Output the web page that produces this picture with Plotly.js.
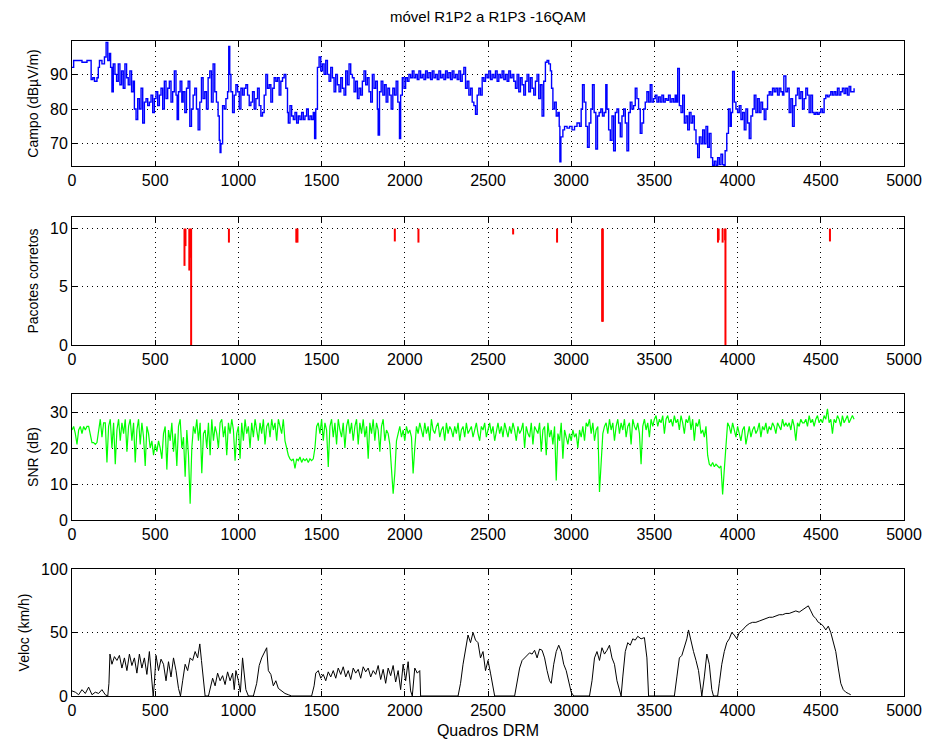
<!DOCTYPE html>
<html>
<head>
<meta charset="utf-8">
<script src="https://cdn.plot.ly/plotly-3.0.1.min.js"></script>
<style>html,body{margin:0;padding:0;background:#fff;}#chart{width:930px;height:749px;}</style>
</head>
<body>
<div id="chart"></div>
<script>
// ---------- DATA ----------
const chartTitle = "móvel R1P2 a R1P3 -16QAM";
const xTitle = "Quadros DRM";
const yTitles = ["Campo (dBµV/m)", "Pacotes corretos", "SNR (dB)", "Veloc (km/h)"];
const xTicks = [0, 500, 1000, 1500, 2000, 2500, 3000, 3500, 4000, 4500, 5000];

// Campo (field strength) – frame / value pairs
const campoFrames = [0,10,30,60,90,110,115,125,135,150,158,165,180,195,205,215,225,232,240,248,258,268,278,288,298,308,318,328,338,348,358,368,375,385,395,405,415,425,435,445,455,465,475,485,495,505,515,525,535,545,555,565,575,585,595,605,615,625,632,640,650,660,668,678,688,698,708,718,728,738,748,758,768,778,788,798,808,818,828,838,848,858,868,878,885,890,895,905,915,925,935,942,948,955,965,975,985,995,1005,1015,1025,1035,1045,1055,1065,1075,1085,1095,1105,1115,1125,1135,1145,1155,1165,1175,1185,1195,1205,1215,1225,1235,1245,1255,1265,1275,1285,1295,1300,1310,1320,1330,1340,1350,1360,1370,1380,1390,1400,1410,1420,1430,1440,1450,1458,1465,1475,1485,1495,1505,1515,1525,1535,1545,1555,1565,1575,1585,1595,1605,1615,1625,1635,1645,1655,1665,1675,1685,1695,1705,1715,1725,1735,1745,1755,1765,1775,1785,1795,1805,1815,1825,1835,1840,1848,1858,1868,1878,1888,1898,1908,1918,1928,1938,1948,1958,1968,1975,1985,1995,2005,2015,2025,2035,2045,2055,2065,2075,2085,2095,2105,2115,2125,2135,2145,2155,2165,2175,2185,2195,2205,2215,2225,2235,2245,2255,2265,2275,2285,2295,2305,2315,2325,2335,2345,2355,2365,2375,2385,2395,2405,2415,2425,2435,2445,2455,2465,2475,2485,2495,2505,2515,2525,2535,2545,2555,2565,2575,2585,2595,2605,2615,2625,2635,2645,2655,2665,2675,2685,2695,2705,2715,2725,2735,2745,2755,2765,2775,2785,2795,2805,2815,2825,2835,2845,2855,2865,2875,2882,2890,2900,2910,2920,2928,2932,2938,2950,2960,2975,2990,3005,3020,3035,3050,3060,3068,3078,3088,3098,3108,3118,3128,3138,3148,3158,3168,3178,3188,3198,3208,3215,3225,3235,3245,3255,3265,3275,3285,3295,3305,3315,3325,3335,3345,3355,3365,3375,3385,3395,3405,3415,3425,3435,3445,3455,3465,3475,3485,3495,3505,3515,3525,3535,3545,3555,3565,3575,3585,3595,3605,3615,3625,3633,3640,3650,3660,3670,3680,3690,3700,3710,3720,3730,3740,3750,3760,3770,3780,3790,3800,3810,3820,3830,3840,3850,3860,3870,3880,3890,3900,3910,3918,3925,3935,3945,3955,3962,3970,3980,3990,4000,4010,4020,4030,4040,4050,4060,4070,4080,4090,4100,4110,4120,4130,4140,4150,4160,4170,4180,4190,4200,4210,4220,4230,4240,4250,4260,4270,4278,4290,4300,4310,4320,4330,4340,4350,4360,4370,4380,4390,4400,4410,4420,4430,4440,4450,4460,4470,4480,4490,4500,4510,4520,4530,4540,4550,4560,4570,4580,4590,4600,4610,4620,4630,4640,4650,4660,4670,4680,4700];
const campoValues = [92,94,94,93.5,94,94,88.5,89,88,89,92,94,93,95,99.2,94,96,92,85,93,90,88,93,87,91,86,93,89,87,91,85,88,80,77,83,80,86,76,82,83,81,82,84,79,83,85,81,84,86,80,88,83,86,88,82,85,91,84,77,85,88,82,85,79,86,88,75,80,84,86,80,74,82,89,83,85,80,89,91,82,93,85,82,78,71,67.5,70,81,80,83,85,98,90,85,79,84,87,85,80,86,84,86,87,84,81,82,85,80,83,86,81,78,79,84,90,86,87,82,86,89,88,89,84,88,89,90,86,79,76,81,78,77,79,76,78,77,79,77,78,80,77,78,77,79,71.5,80,92,95,91,93,90,94,90,88,92,89,85,90,87,85,89,86,84,91,87,93,90,89,85,88,83,86,84,88,91,87,89,85,82,90,86,88,80,72.5,85,88,84,87,82,86,84,80,86,84,88,82,71.5,84,89,86,89,88,90,89,91,89,90,88.5,91,89,90,88.5,91,89,90.5,88.5,91,89,90,88.5,91,89,90,88.5,91,89,90.5,88.5,91,89,90,88.5,91,88,90,92,86,88,84,86,82,81,78.5,84,86,84,89,88,90,89,91,88.5,90,89,91,88,90,89,91,88.5,90,88,91,89,90,88,86,90,85,89,87,84,88,90,85,89,86,84,88,90,83,87,78,88,93.5,94,93,91,86,80,82,78,79,75,64.8,72,74,75,74.5,75,74,75,76,75,80,87,82,75,69,76,80,87,79,68.5,78,79,80,78,79,87,80,74,71,78,68,79,80,76,72,78,80,76,68,79,82,80,81,86,83,80,73,76,80,82,85,82,87,82,83,84,82,83.5,82,84,82,83,82.5,84,82,83,82,84,82,91.7,81,79,84,76,78,74,79,76,78,74,70,66,72,70,74,70,75,69,73,66,63.8,65,63.8,66,64,67,64,63.8,68,73,80,75,79,90.8,82,80,79,81,77,79,74,80,76,71.5,78,80,84,79,83,79,82,80,77,80,84,85,84,86,85,86,84,86,85,84,89.5,85,86,79,83,75,81,84,86,83,85,80,83,86,84,79,84,79,78.5,79,78.5,79,80,79,83,84,83.5,84,85,84,85,84,86,84,85,86,84.5,86,84,86.5,85,86,86];

// Pacotes corretos – frames where packets were lost and the lowest count reached
const pacFrames = [676,682,705,712,716,943,1348,1355,1940,2082,2651,2915,3186,3190,3882,3886,3910,3925,3927,4555];
const pacMin    = [6.8,8.5,6.4,7.5,0,8.8,8.8,8.8,8.9,8.8,9.5,8.8,2.0,2.0,8.8,9.0,8.8,9.0,0,8.9];
const pacFull = 10;

// SNR (dB) – one reading every 10 frames, 0 ... 4700
const snrStep = 10;
const snrValues = [
25,26,24,21,25,26,24,26,25,26,
26,24,21.5,21.5,21,21.5,25,28,23,27,
27,16,26,28,20,27,15.5,25,28,22,
27,24,28,19,26,28,22,27,16,25,
28,21,27,23,15,26,24,20,22,18,
21,19,22,20,17,24,26,14,25,22,
27,19,24,15,26,28,20,23,12,25,
18,4.5,20,26,24,28,22,27,13,24,
25,20,27,18,28,22,26,24,20,27,
28,23,26,18,27,24,28,25,16.5,24,
26,17,27,22,28,24,26,20,27,23,
28,25,22,27,24,28,21,26,27,23,
28,25,27,22,28,26,24,28,22,20,
18,17,16.5,17,14.3,17,16.5,17.5,16,17,
16.5,17,16,17,16.5,17,20,26,27,24,
28,22,27,25,14.7,26,28,23,27,21,
28,25,23,27,20,26,28,24,27,22,
26,28,21,27,24,28,23,26,17,27,
24,28,22,27,25,19,26,28,22,25,
24,21,15,7.3,13,22,24,26,23,25,
22,26,24,25,23,12.9,20,26,24,27,
25,23,27,24,26,22,28,25,24,26,
27,23,25,26,22,27,24,26,25,23,
26,24,27,22,25,26,23,27,24,25,
26,23,25,27,24,22,26,25,27,23,
25,27,24,26,22,25,27,24,26,23,
27,25,23,26,24,27,25,22,26,24,
25,27,20,26,24,23,27,21,26,25,
24,27,19,25,26,18,27,23,25,21,
26,11,24,22,27,17,25,23,21,24,
22,25,23,24,20,25,23,26,22,27,
26,28,24,27,22,25,26,7.8,18,24,
26,27,24,28,25,27,22,26,28,24,
27,25,28,23,26,27,21,28,26,25,
27,24,15.5,26,28,25,27,23,28,26,
28,29,26,28,27,29,24,28,29,27,
28,26,29,27,28,25,29,27,24,28,
27,29,25,28,22,27,26,28,24,25,
23,26,18,15.5,15,16,14.8,15.5,15,14.5,
15,7.1,14,20,27,26,24,27,25,23,
26,24,22,25,26,21,24,26,23,25,
26,24,25,27,23,26,25,27,24,26,
25,27,26,24,27,26,25,28,26,27,
26,27,25,28,26,22,27,26,28,27,
27,28,26,29,27,28,26,28,29,27,
28,27,29,28,30.9,27,28,24,28,27,
29,28,26,29,27,28,29,27,28,29,
28];

// Velocidade (km/h) – frame / value pairs
const velFrames = [0,20,40,60,80,100,120,140,160,180,200,215,222,228,240,255,270,285,300,315,330,345,360,375,390,405,420,435,450,465,478,488,495,505,520,535,550,565,580,595,610,625,640,652,665,680,695,710,725,740,755,768,778,790,800,820,830,845,860,875,890,905,920,935,950,965,975,985,1000,1012,1025,1035,1045,1060,1090,1110,1125,1140,1155,1170,1180,1195,1210,1225,1240,1260,1280,1300,1320,1440,1455,1465,1480,1495,1510,1525,1540,1555,1570,1585,1600,1615,1630,1645,1660,1675,1690,1705,1720,1735,1750,1765,1780,1795,1810,1825,1840,1855,1870,1885,1900,1915,1930,1945,1960,1975,1990,2005,2020,2035,2045,2060,2075,2090,2095,2320,2335,2350,2365,2380,2395,2410,2425,2440,2455,2470,2485,2500,2515,2530,2540,2660,2675,2690,2705,2720,2735,2750,2765,2780,2795,2810,2825,2840,2855,2870,2880,2895,2910,2925,2940,2955,2970,2985,3000,3015,3110,3125,3140,3155,3170,3185,3200,3215,3230,3245,3260,3275,3290,3300,3310,3325,3340,3355,3370,3385,3400,3420,3440,3455,3465,3620,3635,3650,3665,3680,3695,3705,3720,3735,3750,3765,3780,3785,3800,3815,3830,3845,3855,3880,3890,3905,3920,3935,3950,3965,3980,3995,4010,4030,4050,4070,4090,4110,4130,4150,4170,4190,4210,4230,4250,4270,4290,4310,4330,4350,4370,4390,4410,4425,4440,4455,4470,4485,4500,4515,4530,4545,4560,4575,4590,4605,4620,4635,4650,4665,4680];
const velValues = [4,3,1,5,2,7,1,3,2,5,1,0,10,33,25,31,28,32,22,30,20,33,24,30,18,33,22,30,17,35,15,0,10,32,20,29,25,12,27,15,30,20,6,0,12,25,20,30,28,35,30,41,28,12,0,0,6,14,8,18,12,16,9,19,12,18,5,20,12,3,30,18,5,0,0,10,24,30,34,38,20,17,8,12,6,4,2,1,0,0,8,18,20,14,17,12,19,15,20,14,22,17,23,15,20,13,22,18,21,14,23,19,22,15,20,17,24,13,21,10,22,16,24,11,20,5,25,12,27,4,0,22,18,20,0,0,10,25,35,48,42,50,44,42,30,35,20,28,18,8,0,0,12,22,28,30,32,34,33,36,30,37,36,30,20,12,10,25,35,40,35,25,20,10,3,0,0,12,30,35,28,38,33,36,40,30,25,12,5,0,15,35,42,40,45,44,47,45,46,30,0,0,15,30,32,38,45,52,42,35,28,20,5,0,15,33,25,5,0,0,10,25,35,42,45,50,48,45,50,52,55,57,58,58,59,60,61,62,62,63,64,64,65,65,66,67,66,68,70,71,67,63,61,58,57,55,52,55,50,42,35,22,10,5,3,2,1,2,0];

// ---------- BUILD TRACES ----------
const snrFrames = snrValues.map((_, i) => i * snrStep);
const pacX = [], pacY = [];
pacFrames.forEach((f, i) => { pacX.push(f, f, null); pacY.push(pacFull, pacMin[i], null); });

const FONT = "Liberation Sans, Arial, Helvetica, sans-serif";
const traces = [
  {x: campoFrames, y: campoValues, type: "scatter", mode: "lines", line: {color: "#0000ff", width: 1.4, shape: "hv"}, xaxis: "x", yaxis: "y"},
  {x: pacX, y: pacY, type: "scatter", mode: "lines", line: {color: "#ff0000", width: 2}, xaxis: "x2", yaxis: "y2", connectgaps: false},
  {x: snrFrames, y: snrValues, type: "scatter", mode: "lines", line: {color: "#00ff00", width: 1.2}, xaxis: "x3", yaxis: "y3"},
  {x: velFrames, y: velValues, type: "scatter", mode: "lines", line: {color: "#000000", width: 1}, xaxis: "x4", yaxis: "y4"}
];

const W = 930, H = 749;
const xDom = [72 / W, 904 / W];
const boxes = [[41, 166], [217, 345], [394, 520], [569, 696]]; // top, bottom pixel rows
const yRanges = [[63.6, 99.6], [0, 11], [0, 35], [0, 100]];
const yDticks = [10, 5, 10, 50];
const yTick0 = [70, 0, 0, 0];
const GRIDDASH = "1px,4px";

function xaxis(i) {
  const a = {
    domain: xDom, range: [0, 5000], tickvals: xTicks, ticktext: xTicks.map(String),
    anchor: "y" + (i === 0 ? "" : i + 1),
    showline: true, linecolor: "#000", linewidth: 1, mirror: "ticks",
    ticks: "inside", ticklen: 5, tickcolor: "#000",
    showgrid: true, gridcolor: "#000", griddash: GRIDDASH, gridwidth: 1,
    zeroline: false, tickfont: {family: FONT, size: 16, color: "#000"}
  };
  if (i === 3) a.title = {text: xTitle, font: {family: FONT, size: 16, color: "#000"}, standoff: 6};
  return a;
}
function yaxis(i) {
  const b = boxes[i];
  return {
    domain: [1 - b[1] / H, 1 - b[0] / H], range: yRanges[i], dtick: yDticks[i], tick0: yTick0[i],
    anchor: "x" + (i === 0 ? "" : i + 1),
    showline: true, linecolor: "#000", linewidth: 1, mirror: "ticks",
    ticks: "inside", ticklen: 5, tickcolor: "#000",
    showgrid: true, gridcolor: "#000", griddash: GRIDDASH, gridwidth: 1,
    zeroline: false, tickfont: {family: FONT, size: 16, color: "#000"},
    title: {text: yTitles[i], font: {family: FONT, size: 14, color: "#000"}, standoff: 8}
  };
}

const layout = {
  width: W, height: H, margin: {l: 0, r: 0, t: 0, b: 0},
  paper_bgcolor: "#fff", plot_bgcolor: "#fff", showlegend: false,
  title: {text: chartTitle, font: {family: FONT, size: 15, color: "#000"}, x: 488 / W, xanchor: "center", y: 1 - 17 / H, yanchor: "middle"},
  xaxis: xaxis(0), yaxis: yaxis(0),
  xaxis2: xaxis(1), yaxis2: yaxis(1),
  xaxis3: xaxis(2), yaxis3: yaxis(2),
  xaxis4: xaxis(3), yaxis4: yaxis(3)
};

Plotly.newPlot("chart", traces, layout, {staticPlot: true, displayModeBar: false});
</script>
</body>
</html>
